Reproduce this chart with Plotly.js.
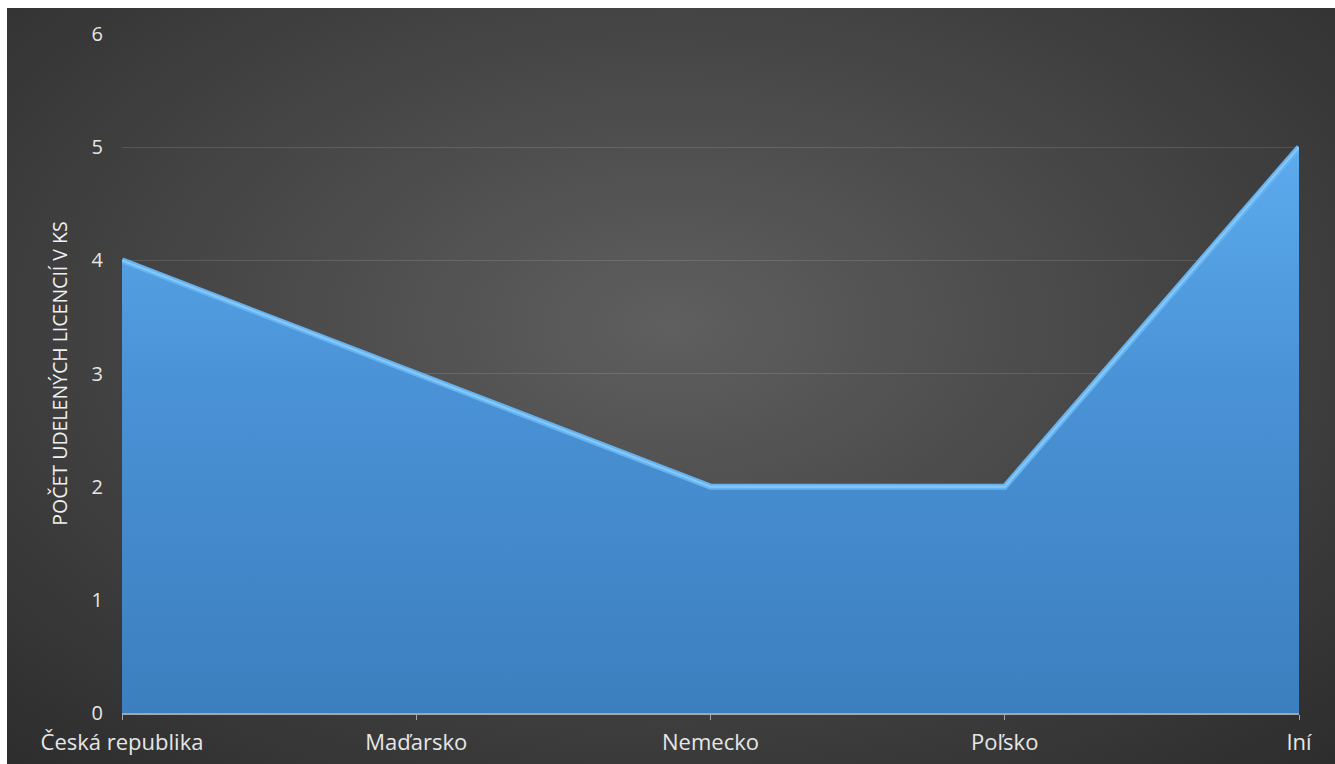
<!DOCTYPE html>
<html>
<head>
<meta charset="utf-8">
<script src="https://cdn.plot.ly/plotly-3.0.1.min.js"></script>
<style>
  html, body { margin: 0; padding: 0; background: #ffffff; }
  #chart {
    position: absolute; left: 7px; top: 8px; width: 1328px; height: 756px;
    background: radial-gradient(ellipse 75% 80% at 50% 42%, #5f5f5f 0%, #4a4a4a 40%, #2c2c2c 100%);
  }
</style>
</head>
<body>
<div id="chart"></div>
<script>
const categories = ["Česká republika", "Maďarsko", "Nemecko", "Poľsko", "Iní"];
const values = [4, 3, 2, 2, 5];
const yTitle = "POČET UDELENÝCH LICENCIÍ V KS";

const areaTrace = {
  x: categories,
  y: values,
  type: "scatter",
  mode: "lines",
  fill: "tozeroy",
  fillgradient: {
    type: "vertical",
    colorscale: [[0, "#3c7fbf"], [0.6, "#4a93d6"], [1, "#5cabee"]]
  },
  line: { color: "#66b3f2", width: 6, shape: "linear" },
  hoverinfo: "x+y"
};

const bevelTrace = {
  x: categories,
  y: values,
  type: "scatter",
  mode: "lines",
  line: { color: "#86c8f8", width: 2, shape: "linear" },
  hoverinfo: "skip"
};

const layout = {
  width: 1328, height: 756,
  paper_bgcolor: "rgba(0,0,0,0)",
  plot_bgcolor: "rgba(0,0,0,0)",
  margin: { l: 115, r: 36, t: 26, b: 51 },
  showlegend: false,
  font: { family: "'Open Sans', Lato, sans-serif", color: "#e6e6e6" },
  xaxis: {
    type: "category",
    range: [0, 4],
    showgrid: false,
    zeroline: false,
    showline: true,
    linecolor: "#a6a6a6",
    linewidth: 2,
    ticks: "outside",
    ticklen: 5,
    tickcolor: "#a6a6a6",
    tickfont: { size: 22, color: "#e6e6e6" },
    ticklabelstandoff: 4
  },
  yaxis: {
    range: [0, 6],
    dtick: 1,
    showgrid: true,
    gridcolor: "rgba(255,255,255,0.12)",
    gridwidth: 1,
    zeroline: false,
    showline: false,
    ticks: "",
    tickfont: { size: 20, color: "#e6e6e6" },
    ticklabelstandoff: 18,
    title: { text: yTitle, font: { size: 19.5, color: "#f0f0f0" }, standoff: 18 }
  }
};

Plotly.newPlot("chart", [areaTrace, bevelTrace], layout, { displayModeBar: false, staticPlot: true });
</script>
</body>
</html>
